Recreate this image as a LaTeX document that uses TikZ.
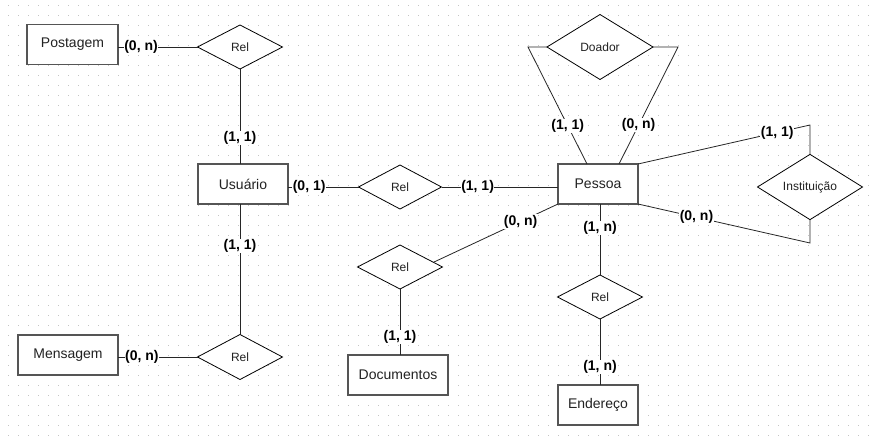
\documentclass[tikz,border=0pt]{standalone}
\usepackage{fontspec}
\setmainfont{Liberation Sans}
\usepackage{xcolor}
\usepackage{tikz}
\usetikzlibrary{calc,shapes.geometric}
\definecolor{text}{HTML}{222222}
\definecolor{edge}{HTML}{555555}
\definecolor{dotc}{HTML}{C4C4C4}
\tikzset{
  entBox/.style={draw=edge, line width=1.4pt, fill=white, text=text, inner sep=0pt, outer sep=0pt,
    minimum height=40pt, font=\fontsize{14}{16}\selectfont},
  relDiamond/.style={diamond, draw=black, line width=0.8pt, fill=white, text=text, inner sep=0pt,
    outer sep=0pt, minimum width=85pt, minimum height=44pt, font=\fontsize{12}{14}\selectfont},
  link/.style={draw=black!85, line width=0.8pt},
  cardLab/.style={fill=white, inner sep=0.5pt, text=black, font=\bfseries\fontsize{14}{16}\selectfont},
  gridDot/.style={fill=dotc}
}
\begin{document}
\begin{tikzpicture}[x=1pt, y=-1pt]
  \useasboundingbox[fill=white] (0,0) rectangle (875,442);
  % dot grid
  \foreach \i in {0,...,86} {
    \foreach \j in {0,...,43} {
      \fill[gridDot] (7.5+10*\i,4.5+10*\j) rectangle ++(1,1);
    }
  }

  % entities
  \node[entBox, minimum width=91pt] (postagem) at (72.5,44.5) {Postagem};
  \node[entBox, minimum width=90pt] (usuario) at (243,184) {Usuário};
  \node[entBox, minimum width=80pt] (pessoa) at (598,184) {Pessoa};
  \node[entBox, minimum width=100pt] (mensagem) at (68,355) {Mensagem};
  \node[entBox, minimum width=100pt] (documentos) at (398,375) {Documentos};
  \node[entBox, minimum width=80pt] (endereco) at (598,405) {Endereço};

  % relationships
  \node[relDiamond] (relPost) at (240,47) {Rel};
  \node[relDiamond, minimum width=83pt] (relPessoa) at (400,187) {Rel};
  \node[relDiamond] (relDoc) at (400,267) {Rel};
  \node[relDiamond, minimum height=45pt] (relMsg) at (240,357) {Rel};
  \node[relDiamond] (relEnd) at (600,297) {Rel};
  \node[relDiamond, minimum width=106pt, minimum height=65pt] (doador) at (600,47) {Doador};
  \node[relDiamond, minimum width=105pt, minimum height=64pt] (inst) at (810,187) {Instituição};

  \coordinate (doadorL) at (528,47);
  \coordinate (doadorR) at (678,47);
  \coordinate (pessoaT1) at ($(pessoa.north west)+(29,0)$);
  \coordinate (pessoaT2) at ($(pessoa.north west)+(61,0)$);
  \coordinate (instTop) at (810,125);
  \coordinate (instBot) at (810,243);

  % connectors
  \draw[link] (postagem.east |- relPost.west) -- node[cardLab, pos=0.29] {(0, n)} (relPost.west);
  \draw[link] (relPost.south) -- node[cardLab, pos=0.73] {(1, 1)} (relPost.south |- usuario.north);
  \draw[link] (usuario.east |- relPessoa.west) -- node[cardLab, pos=0.3] {(0, 1)} (relPessoa.west);
  \draw[link] (relPessoa.east) -- node[cardLab, pos=0.31] {(1, 1)} (pessoa.west |- relPessoa.east);
  \draw[link] (doador.west) -- (doadorL) -- node[cardLab, pos=0.675] {(1, 1)} (pessoaT1);
  \draw[link] (doador.east) -- (doadorR) -- node[cardLab, pos=0.667] {(0, n)} (pessoaT2);
  \draw[link] (pessoa.north east) -- node[cardLab, pos=0.81] {(1, 1)} (instTop) -- (inst.north);
  \draw[link] (pessoa.south east) -- node[cardLab, pos=0.34] {(0, n)} (instBot) -- (inst.south);
  \draw[link] (pessoa.south west) -- node[cardLab, pos=0.3] {(0, n)} (relDoc.8);
  \draw[link] (relDoc.south) -- node[cardLab, pos=0.73] {(1, 1)} (relDoc.south |- documentos.north);
  \draw[link] (relEnd.north |- pessoa.south) -- node[cardLab, pos=0.34] {(1, n)} (relEnd.north);
  \draw[link] (relEnd.south) -- node[cardLab, pos=0.73] {(1, n)} (relEnd.south |- endereco.north);
  \draw[link] (relMsg.north |- usuario.south) -- node[cardLab, pos=0.32] {(1, 1)} (relMsg.north);
  \draw[link] (mensagem.east |- relMsg.west) -- node[cardLab, pos=0.3] {(0, n)} (relMsg.west);
\end{tikzpicture}
\end{document}
